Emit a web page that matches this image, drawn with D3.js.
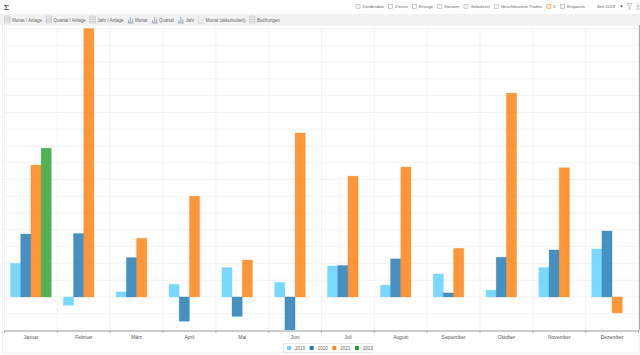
<!DOCTYPE html>
<html>
<head>
<meta charset="utf-8">
<script src="https://cdnjs.cloudflare.com/ajax/libs/d3/7.8.5/d3.min.js"></script>
<style>
  html, body { margin: 0; padding: 0; background: #fff; overflow: hidden; }
  svg { display: block; font-family: "Liberation Sans", sans-serif; }
  text { fill: #666; font-size: 4.5px; }
  text.filter { font-size: 4.3px; }
  .grid line { stroke: #e2e2e2; stroke-width: 0.8; stroke-dasharray: 1 1; }
  .x-axis path, .x-axis line { stroke: #999; stroke-width: 1; }
  .x-axis text { fill: #555; font-size: 4.9px; }
  .bar { fill-opacity: 0.82; stroke-opacity: 0.22; stroke-width: 1; }
</style>
</head>
<body>
<svg></svg>
<script>
var width = 640, height = 355;

var months = ["Januar", "Februar", "März", "April", "Mai", "Juni", "Juli", "August", "September", "Oktober", "November", "Dezember"];
var years = ["2019", "2020", "2021", "2022"];

// in grid steps (the reference shows no y labels)
var v2019 = [2.0, -0.5, 0.3, 0.75, 1.75, 0.87, 1.85, 0.7, 1.37, 0.4, 1.75, 2.86];
var v2020 = [3.75, 3.78, 2.35, -1.45, -1.16, -2.0, 1.88, 2.27, 0.24, 2.37, 2.8, 3.93];
var v2021 = [7.86, 16.0, 3.5, 6.0, 2.2, 9.77, 7.2, 7.74, 2.9, 12.15, 7.7, -0.95];
var v2022 = [8.87, null, null, null, null, null, null, null, null, null, null, null];
var seriesValues = [v2019, v2020, v2021, v2022];

var barColors = ["#5ccfff", "#1f77b4", "#ff7f0e", "#2ca02c"];
var legendColors = ["#66d4ff", "#1f77b4", "#ff8c1a", "#2ca02c"];

var viewTabs = ["Monat / Anlage", "Quartal / Anlage", "Jahr / Anlage", "Monat", "Quartal", "Jahr", "Monat (akkumuliert)", "Buchungen"];
var tabIcons = ["table", "table", "table", "bars", "bars", "bars", "line", "table"];
var filterLabels = ["Dividenden", "Zinsen", "Erträge", "Steuern", "Gebühren", "Geschlossene Trades", "Σ", "Ersparnis"];

var svg = d3.select("svg").attr("width", width).attr("height", height);

var x = d3.scaleBand().domain(months).range([4.5, 638.5]);
var x1 = d3.scaleBand().domain(years).range([6, x.bandwidth() - 6]);
var y = d3.scaleLinear().domain([-2, 16]).range([330.5, 28.5]);

// frame
svg.append("rect").attr("x", 2.5).attr("y", 25).attr("width", 636.5).attr("height", 328)
    .attr("fill", "none").attr("stroke", "#eeeeee");
svg.append("line").attr("x1", 639.5).attr("x2", 639.5).attr("y1", 25).attr("y2", 330).attr("stroke", "#aaa");

// toolbar strip
svg.append("rect").attr("x", 0).attr("y", 14).attr("width", width).attr("height", 11).attr("fill", "#f2f2f2");

var tabX = 4;
viewTabs.forEach(function(label, i) {
    var g = svg.append("g").attr("transform", "translate(" + tabX + ",15.5)");
    if (tabIcons[i] == "table") {
        g.append("rect").attr("x", 0.5).attr("y", 0.5).attr("width", 5.5).attr("height", 7).attr("fill", "#eef0f2").attr("stroke", "#b4bcc4").attr("stroke-width", 0.5);
        d3.range(1, 4).forEach(function(k) {
            g.append("line").attr("x1", 0.5).attr("x2", 6).attr("y1", 0.5 + k * 1.75).attr("y2", 0.5 + k * 1.75).attr("stroke", "#b4bcc4").attr("stroke-width", 0.6);
        });
    } else if (tabIcons[i] == "bars") {
        g.append("path").attr("d", "M0.5 7.5H6.5M1.5 7.5V4.5M3.5 7.5V1.5M5.5 7.5V3.5").attr("stroke", "#95a5b5").attr("stroke-width", 0.9).attr("fill", "none");
    } else {
        g.append("path").attr("d", "M0.5 0.5V7.5H7M1 6.5L3.5 4L5 5L7 2").attr("stroke", "#c5cbd1").attr("stroke-width", 0.6).attr("fill", "none");
    }
    var t = g.append("text").attr("x", 8).attr("y", 6.3).text(label);
    tabX += 8 + t.node().getComputedTextLength() + 3.5;
});

// filter row on top
svg.append("text").attr("x", 3.5).attr("y", 9.5).style("font-family", "'DejaVu Serif', serif").style("font-size", "8px").style("fill", "#333").text("Σ");

var filterX = 356;
filterLabels.forEach(function(label) {
    var active = label == "Σ";
    svg.append("rect").attr("x", filterX).attr("y", 4.5).attr("width", 4).attr("height", 4)
        .attr("fill", active ? "#fff3e0" : "#f6f8fa").attr("stroke", active ? "#f59a23" : "#a3b1bd").attr("stroke-width", 0.6);
    var t = svg.append("text").attr("class", "filter").attr("x", filterX + 6.5).attr("y", 8.4).text(label);
    filterX += 6.5 + t.node().getComputedTextLength() + 4.6;
});
svg.append("text").attr("class", "filter").attr("x", 597).attr("y", 8.4).text("Seit 2019");
svg.append("path").attr("d", d3.line()([[620, 5.5], [623, 5.5], [621.5, 7.5]])).attr("fill", "#444");
svg.append("path").attr("d", "M627 3.5H632L630 6.5V9.5L629 9V6.5Z").attr("fill", "none").attr("stroke", "#a3b1bd").attr("stroke-width", 0.7);
svg.append("path").attr("d", "M636 9H640M638 3V7M636.5 5.5L638 7.5L639.5 5.5").attr("fill", "none").attr("stroke", "#a3b1bd").attr("stroke-width", 0.7);

// grid
svg.append("g").attr("class", "grid")
    .selectAll("line").data(d3.range(-1, 17)).join("line")
    .attr("x1", 4.5).attr("x2", 638.5)
    .attr("y1", function(d) { return y(d); }).attr("y2", function(d) { return y(d); });
svg.append("g").attr("class", "grid")
    .selectAll("line").data(months.concat(null)).join("line")
    .attr("x1", function(d) { return d ? x(d) : x.range()[1]; })
    .attr("x2", function(d) { return d ? x(d) : x.range()[1]; })
    .attr("y1", 28).attr("y2", 330);

// bars
svg.append("defs").append("clipPath").attr("id", "plot").append("rect")
    .attr("x", 4.5).attr("y", 25).attr("width", 634).attr("height", 305);

var barData = [];
seriesValues.forEach(function(vals, s) {
    vals.forEach(function(v, m) {
        if (v !== null) barData.push({ month: months[m], year: years[s], value: v, color: barColors[s] });
    });
});

svg.append("g").attr("clip-path", "url(#plot)")
    .selectAll("rect").data(barData).join("rect")
    .attr("class", "bar")
    .attr("x", function(d) { return x(d.month) + x1(d.year); })
    .attr("width", x1.bandwidth())
    .attr("y", function(d) { return Math.min(y(d.value), y(0)); })
    .attr("height", function(d) { return Math.abs(y(d.value) - y(0)); })
    .attr("fill", function(d) { return d.color; })
    .attr("stroke", function(d) { return d.color; });

// x axis
var axis = d3.axisBottom(x).tickSize(0).tickPadding(5);
var gx = svg.append("g").attr("class", "x-axis").attr("transform", "translate(0,330.5)").call(axis);
gx.selectAll(".tick text").style("font-family", "'Liberation Sans', sans-serif");
gx.selectAll("line.edge").data(months.concat(null)).join("line").attr("class", "edge")
    .attr("x1", function(d) { return d ? x(d) : x.range()[1]; })
    .attr("x2", function(d) { return d ? x(d) : x.range()[1]; })
    .attr("y1", 0).attr("y2", 2);

// legend
var legendX = d3.scalePoint().domain(years).range([287, 355]);
svg.append("rect").attr("x", 283.5).attr("y", 343.5).attr("width", 88.5).attr("height", 9)
    .attr("fill", "#fff").attr("stroke", "#e4e4e4").attr("stroke-width", 0.8);
var lg = svg.append("g").selectAll("g").data(years).join("g")
    .attr("transform", function(d) { return "translate(" + legendX(d) + ",346)"; });
lg.append("rect").attr("width", 4).attr("height", 4).attr("fill", function(d, i) { return legendColors[i]; });
lg.append("text").attr("x", 8).attr("y", 4).text(function(d) { return d; });
</script>
</body>
</html>
